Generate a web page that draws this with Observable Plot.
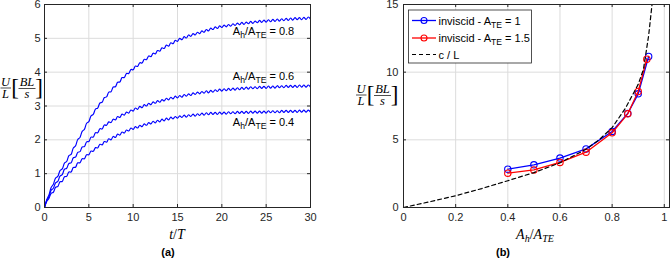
<!DOCTYPE html>
<html><head><meta charset="utf-8">
<script src="https://cdn.jsdelivr.net/npm/d3@7"></script>
<script src="https://cdn.jsdelivr.net/npm/@observablehq/plot@0.6"></script>
<style>
body{margin:0;background:#fff;}
#wrap{position:relative;width:670px;height:261px;display:flex;}
#wrap svg{overflow:visible;display:block;}
</style></head><body><div id="wrap"></div>
<script>
// ---------- panel (a): U/L vs t/T ----------
const tSamples = [0,0.25,0.5,0.75,1,1.25,1.5,1.75,2,2.25,2.5,2.75,3,3.25,3.5,3.75,4,4.25,4.5,4.75,5,5.25,5.5,5.75,6,6.25,6.5,6.75,7,7.25,7.5,7.75,8,8.25,8.5,8.75,9,9.25,9.5,9.75,10,10.25,10.5,10.75,11,11.25,11.5,11.75,12,12.25,12.5,12.75,13,13.25,13.5,13.75,14,14.25,14.5,14.75,15,15.25,15.5,15.75,16,16.25,16.5,16.75,17,17.25,17.5,17.75,18,18.25,18.5,18.75,19,19.25,19.5,19.75,20,20.25,20.5,20.75,21,21.25,21.5,21.75,22,22.25,22.5,22.75,23,23.25,23.5,23.75,24,24.25,24.5,24.75,25,25.25,25.5,25.75,26,26.25,26.5,26.75,27,27.25,27.5,27.75,28,28.25,28.5,28.75,29,29.25,29.5,29.75,30];
const u08 = [0,0.23,0.37,0.59,0.69,0.87,0.92,1.09,1.14,1.31,1.36,1.53,1.57,1.76,1.82,2.01,2.07,2.25,2.31,2.49,2.54,2.71,2.75,2.91,2.94,3.09,3.11,3.25,3.27,3.41,3.42,3.56,3.57,3.70,3.71,3.84,3.84,3.96,3.96,4.08,4.07,4.18,4.17,4.28,4.27,4.38,4.37,4.48,4.46,4.56,4.54,4.64,4.62,4.72,4.70,4.80,4.77,4.87,4.84,4.94,4.91,5.00,4.96,5.05,5.01,5.10,5.06,5.14,5.10,5.18,5.14,5.22,5.18,5.26,5.22,5.30,5.26,5.34,5.29,5.37,5.32,5.39,5.34,5.41,5.36,5.43,5.38,5.45,5.40,5.47,5.41,5.48,5.43,5.50,5.44,5.51,5.46,5.53,5.47,5.54,5.48,5.55,5.49,5.56,5.50,5.57,5.51,5.58,5.52,5.59,5.53,5.60,5.54,5.61,5.55,5.61,5.55,5.62,5.56,5.63,5.57];
const u06 = [0,0.21,0.32,0.51,0.57,0.73,0.77,0.93,0.97,1.13,1.16,1.30,1.32,1.47,1.49,1.63,1.65,1.79,1.80,1.94,1.95,2.08,2.08,2.21,2.21,2.33,2.32,2.44,2.43,2.53,2.51,2.61,2.59,2.69,2.66,2.76,2.73,2.82,2.79,2.88,2.85,2.94,2.90,2.99,2.95,3.04,3.00,3.08,3.04,3.12,3.08,3.16,3.11,3.19,3.15,3.23,3.18,3.26,3.21,3.29,3.24,3.31,3.26,3.34,3.29,3.36,3.31,3.39,3.34,3.41,3.36,3.43,3.38,3.45,3.39,3.46,3.41,3.48,3.43,3.50,3.44,3.51,3.45,3.52,3.46,3.53,3.47,3.54,3.48,3.55,3.49,3.56,3.50,3.57,3.51,3.57,3.51,3.58,3.52,3.58,3.52,3.59,3.53,3.59,3.53,3.60,3.54,3.60,3.54,3.61,3.55,3.61,3.55,3.61,3.55,3.62,3.56,3.62,3.56,3.62,3.56];
const u04 = [0,0.18,0.27,0.42,0.45,0.60,0.62,0.76,0.77,0.91,0.92,1.05,1.05,1.18,1.19,1.32,1.32,1.44,1.44,1.56,1.56,1.67,1.66,1.77,1.76,1.87,1.85,1.95,1.93,2.03,2.00,2.10,2.07,2.17,2.14,2.23,2.20,2.29,2.26,2.35,2.31,2.39,2.35,2.43,2.39,2.47,2.43,2.51,2.47,2.55,2.50,2.58,2.53,2.61,2.56,2.64,2.59,2.67,2.62,2.69,2.64,2.71,2.66,2.73,2.67,2.74,2.69,2.76,2.70,2.77,2.72,2.79,2.73,2.80,2.74,2.81,2.75,2.81,2.75,2.82,2.76,2.82,2.76,2.83,2.77,2.83,2.77,2.84,2.78,2.84,2.78,2.84,2.78,2.85,2.79,2.85,2.79,2.85,2.79,2.85,2.79,2.86,2.80,2.86,2.80,2.86,2.80,2.87,2.81,2.87,2.81,2.87,2.81,2.87,2.81,2.88,2.82,2.88,2.82,2.88,2.82];
const curveRatios = ["0.8", "0.6", "0.4"];
const curveLabelT = [21.3, 21.3, 21.3];
const curveLabelU = [5.2, 3.88, 2.5];
const ticksTA = [0, 5, 10, 15, 20, 25, 30];
const ticksUA = [0, 1, 2, 3, 4, 5, 6];

// ---------- panel (b): U/L vs Ah/ATE ----------
const ratioTE1 = [0.4, 0.5, 0.6, 0.7, 0.8, 0.86, 0.9, 0.94];
const velTE1   = [2.83, 3.15, 3.65, 4.33, 5.62, 6.95, 8.4, 11.16];
const ratioTE15 = [0.4, 0.5, 0.6, 0.7, 0.8, 0.86, 0.9, 0.933];
const velTE15   = [2.54, 2.78, 3.33, 4.09, 5.52, 6.92, 8.57, 10.96];
const ratioCL = [0, 0.1, 0.2, 0.3, 0.4, 0.5, 0.6, 0.7, 0.75, 0.8, 0.85, 0.9, 0.92, 0.94, 0.953];
const velCL   = [0, 0.42, 0.87, 1.4, 1.98, 2.58, 3.3, 4.3, 5.0, 5.9, 7.3, 9.1, 10.2, 12.7, 15.0];
const ticksRB = [0, 0.2, 0.4, 0.6, 0.8, 1];
const ticksUB = [0, 5, 10, 15];
const legendNames = [["inviscid - A", "TE", " = 1"], ["inviscid - A", "TE", " = 1.5"], ["c / L", "", ""]];

// ---------- shared styling ----------
const AX = "#262626", GRID = "#dcdcdc", BLUE = "#0000ff", RED = "#ff0000";
const baseStyle = {fontFamily: "'Liberation Sans', Arial, sans-serif", fontSize: "11px", color: AX, background: "transparent", overflow: "visible"};
const SERIF = "'Liberation Serif', 'Times New Roman', serif";
const fmt = d => String(d);

const rowsA = [];
[[curveRatios[0], u08], [curveRatios[1], u06], [curveRatios[2], u04]].forEach(([k, arr]) =>
  arr.forEach((u, i) => rowsA.push({t: tSamples[i], u, k})));

const mA = {l: 44, r: 25, t: 4, b: 54};
const pwA = 335 - mA.l - mA.r, phA = 261 - mA.t - mA.b;
const plotA = Plot.plot({
  width: 335, height: 261,
  marginLeft: mA.l, marginRight: mA.r, marginTop: mA.t, marginBottom: mA.b,
  style: baseStyle,
  x: {domain: [0, 30]}, y: {domain: [0, 6]},
  marks: [
    Plot.gridX(ticksTA, {stroke: GRID, strokeOpacity: 1}),
    Plot.gridY(ticksUA, {stroke: GRID, strokeOpacity: 1}),
    Plot.line(rowsA, {x: "t", y: "u", z: "k", stroke: BLUE, strokeWidth: 1.15, curve: "catmull-rom"}),
    Plot.frame({stroke: AX}),
    Plot.tickX(ticksTA, {x: d => d, stroke: AX, insetTop: phA - 3}),
    Plot.tickX(ticksTA, {x: d => d, stroke: AX, insetBottom: phA - 3}),
    Plot.tickY(ticksUA, {y: d => d, stroke: AX, insetRight: pwA - 3}),
    Plot.tickY(ticksUA, {y: d => d, stroke: AX, insetLeft: pwA - 3}),
    Plot.axisX(ticksTA, {tickSize: 0, tickPadding: 6, label: null, fill: AX, tickFormat: fmt}),
    Plot.axisY(ticksUA, {tickSize: 0, tickPadding: 4, label: null, fill: AX, tickFormat: fmt})
  ]
});

const rowsB1 = ratioTE1.map((r, i) => ({r, u: velTE1[i]}));
const rowsB15 = ratioTE15.map((r, i) => ({r, u: velTE15[i]}));
const rowsCL = ratioCL.map((r, i) => ({r, u: velCL[i]}));
const mB = {l: 68, r: 1, t: 4, b: 54};
const pwB = 335 - mB.l - mB.r, phB = 261 - mB.t - mB.b;
const plotB = Plot.plot({
  width: 335, height: 261,
  marginLeft: mB.l, marginRight: mB.r, marginTop: mB.t, marginBottom: mB.b,
  style: baseStyle,
  x: {domain: [0, 1.02]}, y: {domain: [0, 15]},
  marks: [
    Plot.gridX(ticksRB, {stroke: GRID, strokeOpacity: 1}),
    Plot.gridY(ticksUB, {stroke: GRID, strokeOpacity: 1}),
    Plot.line(rowsB1, {x: "r", y: "u", stroke: BLUE, strokeWidth: 1.3}),
    Plot.dot(rowsB1, {x: "r", y: "u", stroke: BLUE, r: 3.2, strokeWidth: 1.1, fill: "none"}),
    Plot.line(rowsB15, {x: "r", y: "u", stroke: RED, strokeWidth: 1.3}),
    Plot.dot(rowsB15, {x: "r", y: "u", stroke: RED, r: 3.2, strokeWidth: 1.1, fill: "none"}),
    Plot.line(rowsCL, {x: "r", y: "u", stroke: "#000", strokeWidth: 1.2, strokeDasharray: "4,3"}),
    Plot.frame({stroke: AX}),
    Plot.tickX(ticksRB, {x: d => d, stroke: AX, insetTop: phB - 3}),
    Plot.tickX(ticksRB, {x: d => d, stroke: AX, insetBottom: phB - 3}),
    Plot.tickY(ticksUB, {y: d => d, stroke: AX, insetRight: pwB - 3}),
    Plot.tickY(ticksUB, {y: d => d, stroke: AX, insetLeft: pwB - 3}),
    Plot.axisX(ticksRB, {tickSize: 0, tickPadding: 6, label: null, fill: AX, tickFormat: fmt}),
    Plot.axisY(ticksUB, {tickSize: 0, tickPadding: 5, label: null, fill: AX, tickFormat: fmt})
  ]
});

const wrap = document.getElementById("wrap");
wrap.append(plotA, plotB);

// helper: text with subscript parts [[text, isSub, italic]]
function richText(g, x, y, parts, opts = {}) {
  const t = g.append("text").attr("x", x).attr("y", y)
    .attr("font-family", opts.family || "'Liberation Sans', Arial, sans-serif")
    .attr("font-size", opts.size || 11).attr("fill", opts.fill || AX)
    .attr("text-anchor", opts.anchor || "start");
  if (opts.weight) t.attr("font-weight", opts.weight);
  let down = false;
  const subDy = opts.subDy || 3;
  parts.forEach(([s, sub, ital]) => {
    if (!s) return;
    const sp = t.append("tspan").text(s);
    if (sub && !down) { sp.attr("dy", subDy); down = true; }
    else if (!sub && down) { sp.attr("dy", -subDy); down = false; }
    if (sub) sp.attr("font-size", (opts.size || 11) * (opts.subScale || 0.78));
    if (ital) sp.attr("font-style", "italic");
  });
  return t;
}

// fraction y-label U/L [BL/s]
function fracLabel(g, x0, yc) {
  const f = {family: SERIF, size: 12.5, anchor: "middle", fill: "#000"};
  richText(g, x0 + 5, yc - 2, [["U", false, true]], f);
  g.append("line").attr("x1", x0).attr("x2", x0 + 10.5).attr("y1", yc).attr("y2", yc).attr("stroke", "#000").attr("stroke-width", 0.7);
  richText(g, x0 + 5, yc + 10, [["L", false, true]], f);
  richText(g, x0 + 14.5, yc + 7, [["[", false, false]], {family: SERIF, size: 23, anchor: "middle", fill: "#000"});
  richText(g, x0 + 26.5, yc - 2, [["BL", false, true]], f);
  g.append("line").attr("x1", x0 + 18).attr("x2", x0 + 35).attr("y1", yc + 0.5).attr("y2", yc + 0.5).attr("stroke", "#000").attr("stroke-width", 0.7);
  richText(g, x0 + 26.5, yc + 10, [["s", false, true]], f);
  richText(g, x0 + 38.5, yc + 7, [["]", false, false]], {family: SERIF, size: 23, anchor: "middle", fill: "#000"});
}

// panel (a) overlays
const svgA = d3.select(plotA);
const sxA = plotA.scale("x"), syA = plotA.scale("y");
const gA = svgA.append("g");
curveRatios.forEach((k, i) => {
  richText(gA, sxA.apply(curveLabelT[i]), syA.apply(curveLabelU[i]) + 4,
    [["A", false], ["h", true], ["/A", false], ["TE", true], [" = " + k, false]], {size: 11, fill: "#000"});
});
fracLabel(gA, 0.5, 88);
richText(gA, 177, 239, [["t", false, true], ["/", false, false], ["T", false, true]], {family: SERIF, size: 14, anchor: "middle", fill: "#000"});
richText(gA, 168, 256, [["(a)", false]], {size: 11, anchor: "middle", weight: "bold", fill: "#000"});

// panel (b) overlays
const svgB = d3.select(plotB);
const gB = svgB.append("g");
fracLabel(gB, 21, 95);
richText(gB, 200, 239, [["A", false, true], ["h", true, true], ["/", false, false], ["A", false, true], ["TE", true, true]], {family: SERIF, size: 14, anchor: "middle", fill: "#000", subDy: 3, subScale: 0.72});
richText(gB, 168, 256, [["(b)", false]], {size: 11, anchor: "middle", weight: "bold", fill: "#000"});

// legend
const leg = gB.append("g");
leg.append("rect").attr("x", 73.5).attr("y", 10).attr("width", 123).attr("height", 53)
  .attr("fill", "#fff").attr("stroke", AX).attr("stroke-width", 0.8);
const legColors = [BLUE, RED, "#000"];
const legY = [20.5, 38, 54.5];
legendNames.forEach((nm, i) => {
  const y = legY[i];
  const ln = leg.append("line").attr("x1", 77).attr("x2", 101).attr("y1", y).attr("y2", y)
    .attr("stroke", legColors[i]).attr("stroke-width", i < 2 ? 1.3 : 1.2);
  if (i === 2) ln.attr("stroke-dasharray", "4,3");
  else leg.append("circle").attr("cx", 89).attr("cy", y).attr("r", 3).attr("fill", "none").attr("stroke", legColors[i]).attr("stroke-width", 1.1);
  richText(leg, 103.5, y + 4, [[nm[0], false], [nm[1], true], [nm[2], false]], {size: 11, fill: "#000"});
});
</script></body></html>
